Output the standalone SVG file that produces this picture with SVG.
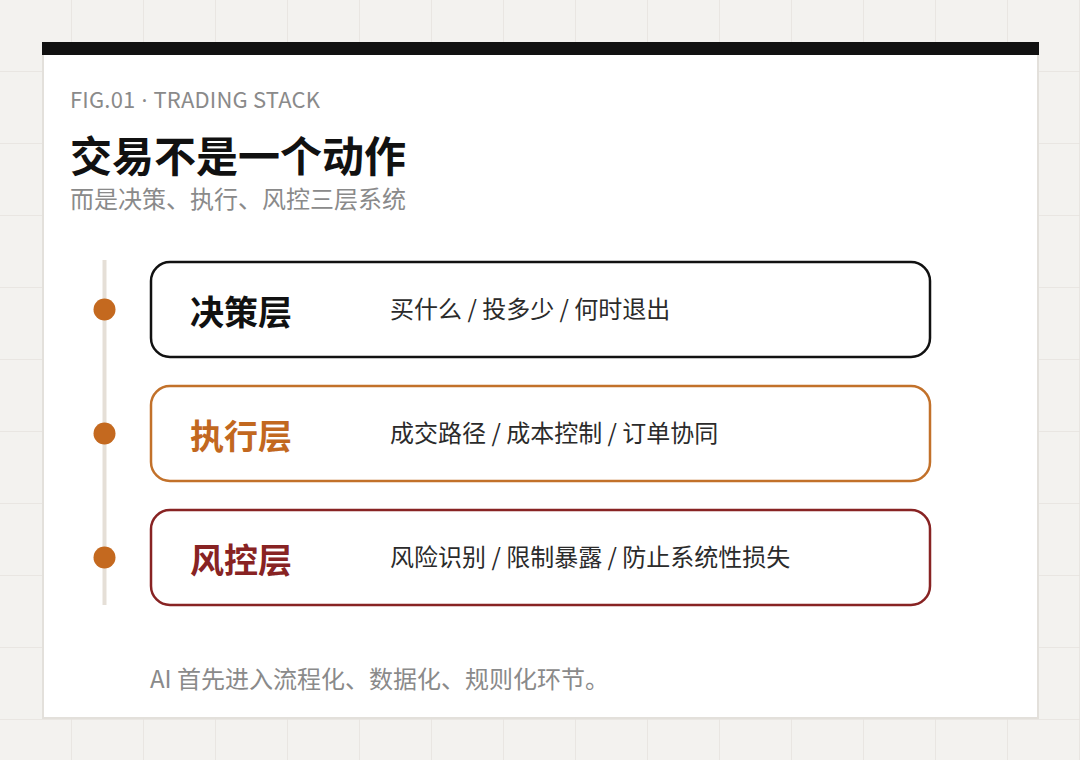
<svg xmlns="http://www.w3.org/2000/svg" width="1080" height="760" viewBox="0 0 1080 760">
  <defs>
    <pattern id="grid" x="0" y="0" width="72" height="72" patternUnits="userSpaceOnUse">
      <rect width="72" height="72" fill="#f3f2ef"/>
      <path d="M72 0 V72 M0 72 H72" stroke="#e6e3de" stroke-width="1.5" fill="none"/>
    </pattern>
    <style>
      .cjk { font-family: "Noto Sans CJK SC", "Noto Sans", sans-serif; }
      .fig { font-size: 22px; fill: #8a8a8a; letter-spacing: 0.2px; }
      .sep { font-family: "Noto Sans", sans-serif; }
      .title { font-size: 42px; font-weight: 700; fill: #111111; }
      .sub { font-size: 24px; fill: #8a8a8a; }
      .node rect { fill: #ffffff; stroke-width: 2.5; }
      .label { font-size: 34px; font-weight: 700; }
      .desc { font-size: 24px; fill: #2b2b2b; }
      .note { font-size: 24px; fill: #8a8a8a; }
      .dot { fill: #c4691f; }
    </style>
  </defs>

  <rect width="1080" height="760" fill="url(#grid)"/>

  <g id="card">
    <rect x="43" y="43" width="995" height="675" fill="#ffffff" stroke="#e3e0db" stroke-width="2"/>
    <rect x="42" y="42" width="997" height="13" fill="#111111"/>
  </g>

  <g id="header" class="cjk">
    <text x="70" y="107.5" class="fig">FIG.01<tspan class="sep"> · </tspan>TRADING STACK</text>
    <text x="70" y="172" class="title">交易不是一个动作</text>
    <text x="70" y="208" class="sub">而是决策、执行、风控三层系统</text>
  </g>

  <g id="connectors">
    <line x1="104.5" y1="260" x2="104.5" y2="605" stroke="#e5dfd7" stroke-width="4"/>
    <circle class="dot" cx="104.5" cy="309.5" r="11"/>
    <circle class="dot" cx="104.5" cy="433.5" r="11"/>
    <circle class="dot" cx="104.5" cy="557.5" r="11"/>
  </g>

  <g id="node-decision" class="node cjk">
    <rect x="151" y="262" width="779" height="95" rx="19" stroke="#111111"/>
    <text x="190" y="325" class="label" fill="#111111">决策层</text>
    <text x="390" y="318" class="desc">买什么 / 投多少 / 何时退出</text>
  </g>

  <g id="node-execution" class="node cjk">
    <rect x="151" y="386" width="779" height="95" rx="19" stroke="#c2712a"/>
    <text x="190" y="449" class="label" fill="#c2681f">执行层</text>
    <text x="390" y="442" class="desc">成交路径 / 成本控制 / 订单协同</text>
  </g>

  <g id="node-risk" class="node cjk">
    <rect x="151" y="510" width="779" height="95" rx="19" stroke="#882323"/>
    <text x="190" y="573" class="label" fill="#882323">风控层</text>
    <text x="390" y="566" class="desc">风险识别 / 限制暴露 / 防止系统性损失</text>
  </g>

  <g id="footer" class="cjk">
    <text x="150" y="688" class="note">AI 首先进入流程化、数据化、规则化环节。</text>
  </g>
</svg>
